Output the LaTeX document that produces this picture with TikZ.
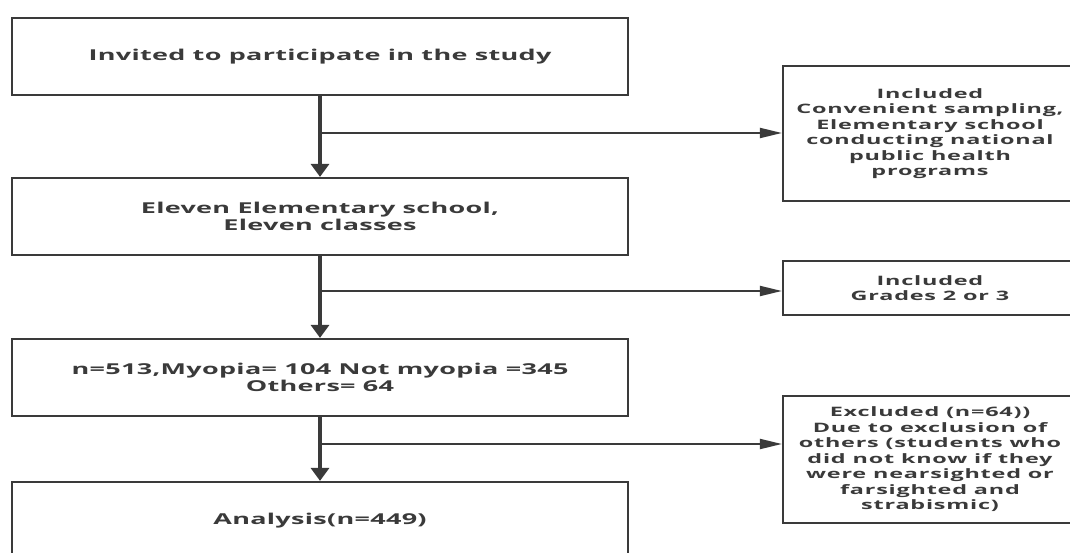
\documentclass[tikz,border=0pt]{standalone}
\usepackage{fontspec}
\newfontfamily\flowfont{Open Sans}[FakeStretch=1.8, LetterSpace=2]
\newfontfamily\sidefont{Open Sans}[FakeStretch=1.8, LetterSpace=6]
\usetikzlibrary{arrows.meta}
\definecolor{ink}{HTML}{3A3A3A}
\tikzset{%
  % Specifications for style of nodes:
        base/.style = {rectangle, draw=ink, line width=2.2pt, text=ink,
                       align=center, inner sep=0pt},
     mainbox/.style = {base, minimum width=616pt, minimum height=77pt,
                       font=\flowfont\bfseries\fontsize{15}{17}\selectfont},
     sidebox/.style = {base, minimum width=294pt,
                       font=\sidefont\bfseries\fontsize{13}{15.5}\selectfont},
  % Specifications for style of connectors:
       vline/.style = {draw=ink, line width=3.2pt,
                       -{Triangle[width=18pt,length=13pt]}},
       hline/.style = {draw=ink, line width=2pt,
                       -{Triangle[width=10pt,length=22pt]}},
}
\begin{document}
\begin{tikzpicture}[x=1pt, y=-1pt]
\useasboundingbox (0,0) rectangle (1070,553);
\clip (0,0) rectangle (1070,553);

\node (Invited)  [mainbox] at (320,56.5)  {Invited to participate in the study};
\node (Schools)  [mainbox] at (320,216.5) {Eleven Elementary school,\\Eleven classes};
\node (Sample)   [mainbox] at (320,377.5) {n=513,Myopia= 104 Not myopia =345\\Others= 64};
\node (Analysis) [mainbox] at (320,520.5) {Analysis(n=449)};

\node (Sampling) [sidebox, minimum height=135pt] at (930,133.5)
  {Included\\Convenient sampling,\\Elementary school\\conducting national\\public health\\programs};
\node (Grades)   [sidebox, minimum height=54pt] at (930,288)
  {Included\\Grades 2 or 3};
\node (Excluded) [sidebox, minimum height=127pt] at (930,459.5)
  {Excluded (n=64))\\Due to exclusion of\\others (students who\\did not know if they\\were nearsighted or\\farsighted and\\strabismic)};

\coordinate (SplitA) at (320,133);
\coordinate (SplitB) at (320,291);
\coordinate (SplitC) at (320,444);

\draw[vline] (Invited) -- (Schools);
\draw[vline] (Schools) -- (Sample);
\draw[vline] (Sample) -- (Analysis);

\draw[hline] (SplitA) -- (SplitA -| Sampling.west);
\draw[hline] (SplitB) -- (SplitB -| Grades.west);
\draw[hline] (SplitC) -- (SplitC -| Excluded.west);
\end{tikzpicture}
\end{document}
